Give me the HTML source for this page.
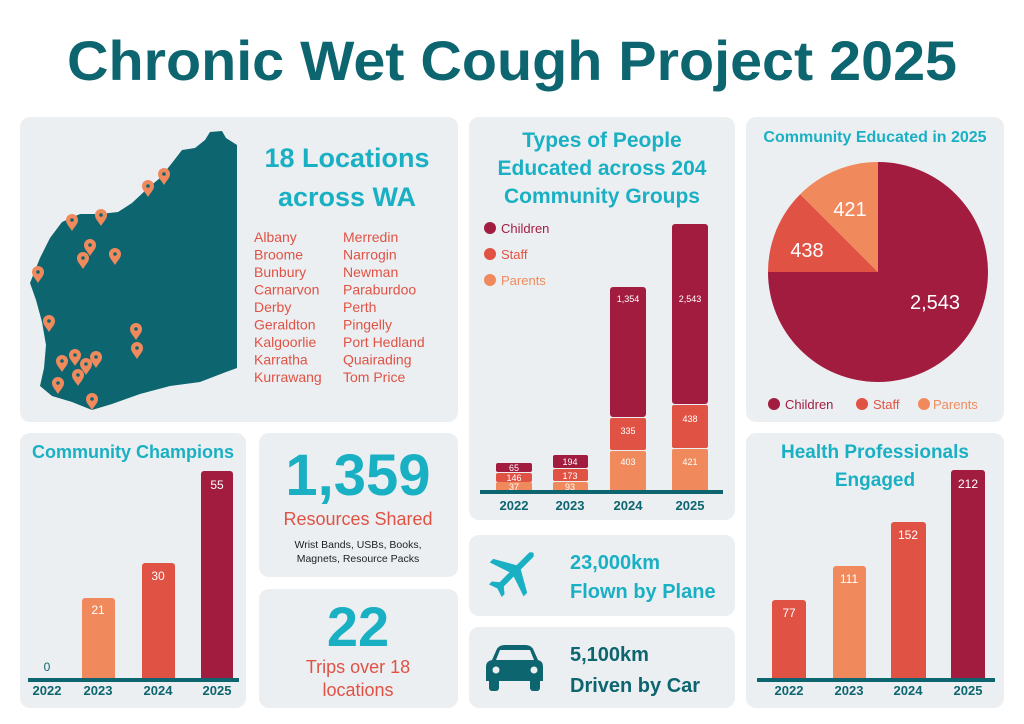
<!DOCTYPE html>
<html><head><meta charset="utf-8"><style>
html,body{margin:0;padding:0;background:#fff;}
svg{display:block;font-family:"Liberation Sans",sans-serif;}
.t{font-weight:bold;}
</style></head><body>
<svg width="1024" height="724" viewBox="0 0 1024 724" xmlns="http://www.w3.org/2000/svg">
<defs>
<g id="pin"><path d="M0,10 C-3,5 -6,3 -6,-1 A6,6 0 1 1 6,-1 C6,3 3,5 0,10Z" fill="#f08a5d"/><circle cx="0" cy="-1" r="1.8" fill="#0d6570"/></g>
</defs>
<rect width="1024" height="724" fill="#fff"/>
<text x="512" y="80" text-anchor="middle" font-size="56" class="t" fill="#0d6570" textLength="890" lengthAdjust="spacingAndGlyphs">Chronic Wet Cough Project 2025</text>

<!-- panels -->
<g fill="#eceff2">
<rect x="20" y="117" width="438" height="305" rx="10"/>
<rect x="469" y="117" width="266" height="403" rx="10"/>
<rect x="746" y="117" width="258" height="305" rx="10"/>
<rect x="20" y="433" width="226" height="275" rx="10"/>
<rect x="259" y="433" width="199" height="144" rx="10"/>
<rect x="259" y="589" width="199" height="119" rx="10"/>
<rect x="469" y="535" width="266" height="81" rx="10"/>
<rect x="469" y="627" width="266" height="81" rx="10"/>
<rect x="746" y="433" width="258" height="275" rx="10"/>
</g>

<!-- map -->
<path d="M237,145 L226,138 L222,131 L210,132 L205,140 L195,148 L182,150 L172,163 L160,178 L148,188 L132,203 L118,212 L100,214 L80,214 L62,222 L50,238 L40,258 L30,283 L36,300 L42,322 L46,345 L44,368 L40,386 L52,396 L72,402 L92,410 L112,404 L140,394 L170,386 L200,382 L226,372 L237,368 Z" fill="#0d6570"/>
<g>
<use href="#pin" x="164" y="175"/><use href="#pin" x="148" y="187"/><use href="#pin" x="72" y="221"/><use href="#pin" x="101" y="216"/>
<use href="#pin" x="90" y="246"/><use href="#pin" x="83" y="259"/><use href="#pin" x="115" y="255"/><use href="#pin" x="38" y="273"/>
<use href="#pin" x="49" y="322"/><use href="#pin" x="136" y="330"/><use href="#pin" x="137" y="349"/><use href="#pin" x="62" y="362"/>
<use href="#pin" x="75" y="356"/><use href="#pin" x="86" y="365"/><use href="#pin" x="96" y="358"/><use href="#pin" x="78" y="376"/>
<use href="#pin" x="58" y="384"/><use href="#pin" x="92" y="400"/>
</g>
<text x="347" y="167" text-anchor="middle" font-size="27" class="t" fill="#1ab0c4">18 Locations</text>
<text x="347" y="206" text-anchor="middle" font-size="27" class="t" fill="#1ab0c4">across WA</text>
<g font-size="14" fill="#e05244">
<text x="254" y="242">Albany</text><text x="254" y="259.5">Broome</text><text x="254" y="277">Bunbury</text><text x="254" y="294.5">Carnarvon</text><text x="254" y="312">Derby</text><text x="254" y="329.5">Geraldton</text><text x="254" y="347">Kalgoorlie</text><text x="254" y="364.5">Karratha</text><text x="254" y="382">Kurrawang</text>
<text x="343" y="242">Merredin</text><text x="343" y="259.5">Narrogin</text><text x="343" y="277">Newman</text><text x="343" y="294.5">Paraburdoo</text><text x="343" y="312">Perth</text><text x="343" y="329.5">Pingelly</text><text x="343" y="347">Port Hedland</text><text x="343" y="364.5">Quairading</text><text x="343" y="382">Tom Price</text>
</g>

<!-- types -->
<g font-size="21" class="t" fill="#1ab0c4" text-anchor="middle">
<text x="602" y="147">Types of People</text>
<text x="602" y="175">Educated across 204</text>
<text x="602" y="203">Community Groups</text>
</g>
<circle cx="490" cy="228" r="6" fill="#a21c40"/><text x="501" y="233" font-size="13" fill="#a21c40">Children</text>
<circle cx="490" cy="254" r="6" fill="#e05244"/><text x="501" y="259" font-size="13" fill="#e05244">Staff</text>
<circle cx="490" cy="280" r="6" fill="#f08a5d"/><text x="501" y="285" font-size="13" fill="#f08a5d">Parents</text>
<g>
<rect x="496" y="463" width="36" height="9" rx="2" fill="#a21c40"/><rect x="496" y="473" width="36" height="9" rx="2" fill="#e05244"/><rect x="496" y="482" width="36" height="10" rx="2" fill="#f08a5d"/>
<rect x="553" y="455" width="35" height="13" rx="2" fill="#a21c40"/><rect x="553" y="469" width="35" height="12" rx="2" fill="#e05244"/><rect x="553" y="482" width="35" height="10" rx="2" fill="#f08a5d"/>
<rect x="610" y="287" width="36" height="130" rx="3" fill="#a21c40"/><rect x="610" y="418" width="36" height="32" rx="2" fill="#e05244"/><rect x="610" y="451" width="36" height="41" rx="2" fill="#f08a5d"/>
<rect x="672" y="224" width="36" height="180" rx="3" fill="#a21c40"/><rect x="672" y="405" width="36" height="43" rx="2" fill="#e05244"/><rect x="672" y="449" width="36" height="43" rx="2" fill="#f08a5d"/>
</g>
<g font-size="9" fill="#fff" text-anchor="middle">
<text x="514" y="471">65</text><text x="514" y="481">146</text><text x="514" y="490">37</text>
<text x="570" y="465">194</text><text x="570" y="479">173</text><text x="570" y="490">93</text>
<text x="628" y="302">1,354</text><text x="628" y="434">335</text><text x="628" y="465">403</text>
<text x="690" y="302">2,543</text><text x="690" y="422">438</text><text x="690" y="465">421</text>
</g>
<rect x="480" y="490" width="243" height="4" fill="#0d6570"/>
<g font-size="13" class="t" fill="#0d6570" text-anchor="middle">
<text x="514" y="510">2022</text><text x="570" y="510">2023</text><text x="628" y="510">2024</text><text x="690" y="510">2025</text>
</g>

<!-- pie -->
<text x="875" y="142" text-anchor="middle" font-size="16" class="t" fill="#1ab0c4">Community Educated in 2025</text>
<path d="M878,272 L878,162 A110,110 0 1 1 768,272 Z" fill="#a21c40"/>
<path d="M878,272 L768,272 A110,110 0 0 1 800.2,194.2 Z" fill="#e05244"/>
<path d="M878,272 L800.2,194.2 A110,110 0 0 1 878,162 Z" fill="#f08a5d"/>
<g font-size="20" fill="#fff" text-anchor="middle">
<text x="850" y="216">421</text><text x="807" y="257">438</text><text x="935" y="309">2,543</text>
</g>
<circle cx="774" cy="404" r="6" fill="#a21c40"/><text x="785" y="409" font-size="13" fill="#a21c40">Children</text>
<circle cx="862" cy="404" r="6" fill="#e05244"/><text x="873" y="409" font-size="13" fill="#e05244">Staff</text>
<circle cx="924" cy="404" r="6" fill="#f08a5d"/><text x="933" y="409" font-size="13" fill="#f08a5d">Parents</text>

<!-- champions -->
<text x="133" y="458" text-anchor="middle" font-size="18" class="t" fill="#1ab0c4">Community Champions</text>
<rect x="82" y="598" width="33" height="84" rx="3" fill="#f08a5d"/>
<rect x="142" y="563" width="33" height="119" rx="3" fill="#e05244"/>
<rect x="201" y="471" width="32" height="211" rx="3" fill="#a21c40"/>
<rect x="28" y="678" width="211" height="4" fill="#0d6570"/>
<g font-size="12" fill="#fff" text-anchor="middle">
<text x="47" y="671" fill="#0d6570">0</text><text x="98" y="614">21</text><text x="158" y="580">30</text><text x="217" y="489">55</text>
</g>
<g font-size="13" class="t" fill="#0d6570" text-anchor="middle">
<text x="47" y="695">2022</text><text x="98" y="695">2023</text><text x="158" y="695">2024</text><text x="217" y="695">2025</text>
</g>

<!-- resources -->
<text x="358" y="495" text-anchor="middle" font-size="58" class="t" fill="#1ab0c4">1,359</text>
<text x="358" y="525" text-anchor="middle" font-size="18" fill="#e05244">Resources Shared</text>
<text x="358" y="548" text-anchor="middle" font-size="10.5" fill="#222">Wrist Bands, USBs, Books,</text>
<text x="358" y="562" text-anchor="middle" font-size="10.5" fill="#222">Magnets, Resource Packs</text>

<!-- trips -->
<text x="358" y="646" text-anchor="middle" font-size="56" class="t" fill="#1ab0c4">22</text>
<text x="358" y="673" text-anchor="middle" font-size="18" fill="#e05244">Trips over 18</text>
<text x="358" y="696" text-anchor="middle" font-size="18" fill="#e05244">locations</text>

<!-- plane -->
<g transform="translate(513,573) rotate(45)" fill="#1ab0c4">
<path d="M-3,-26 Q0,-31 3,-26 L3,-8 L24,4 L24,9 L3,2 L3,16 L9,21 L9,25 L0,22 L-9,25 L-9,21 L-3,16 L-3,2 L-24,9 L-24,4 L-3,-8 Z"/>
</g>
<text x="570" y="569" font-size="20" class="t" fill="#1ab0c4">23,000km</text>
<text x="570" y="598" font-size="20" class="t" fill="#1ab0c4">Flown by Plane</text>

<!-- car -->
<g fill="#0d6570">
<path d="M496,651 Q498,645 505,645 L525,645 Q532,645 534,651 L538,660 Q543,661 543,667 L543,681 L486,681 L486,667 Q486,661 492,660 Z"/>
<rect x="489" y="678" width="10" height="13" rx="3"/><rect x="530" y="678" width="10" height="13" rx="3"/>
<path d="M500,650 L530,650 L534,660 L496,660 Z" fill="#eceff2"/>
<circle cx="496" cy="670" r="3.5" fill="#eceff2"/><circle cx="534" cy="670" r="3.5" fill="#eceff2"/>
</g>
<text x="570" y="661" font-size="20" class="t" fill="#0d6570">5,100km</text>
<text x="570" y="692" font-size="20" class="t" fill="#0d6570">Driven by Car</text>

<!-- health -->
<text x="875" y="458" text-anchor="middle" font-size="19" class="t" fill="#1ab0c4">Health Professionals</text>
<text x="875" y="486" text-anchor="middle" font-size="19" class="t" fill="#1ab0c4">Engaged</text>
<rect x="772" y="600" width="34" height="82" rx="3" fill="#e05244"/>
<rect x="833" y="566" width="33" height="116" rx="3" fill="#f08a5d"/>
<rect x="891" y="522" width="35" height="160" rx="3" fill="#e05244"/>
<rect x="951" y="470" width="34" height="212" rx="3" fill="#a21c40"/>
<rect x="757" y="678" width="238" height="4" fill="#0d6570"/>
<g font-size="12" fill="#fff" text-anchor="middle">
<text x="789" y="617">77</text><text x="849" y="583">111</text><text x="908" y="539">152</text><text x="968" y="488">212</text>
</g>
<g font-size="13" class="t" fill="#0d6570" text-anchor="middle">
<text x="789" y="695">2022</text><text x="849" y="695">2023</text><text x="908" y="695">2024</text><text x="968" y="695">2025</text>
</g>
</svg>
</body></html>
